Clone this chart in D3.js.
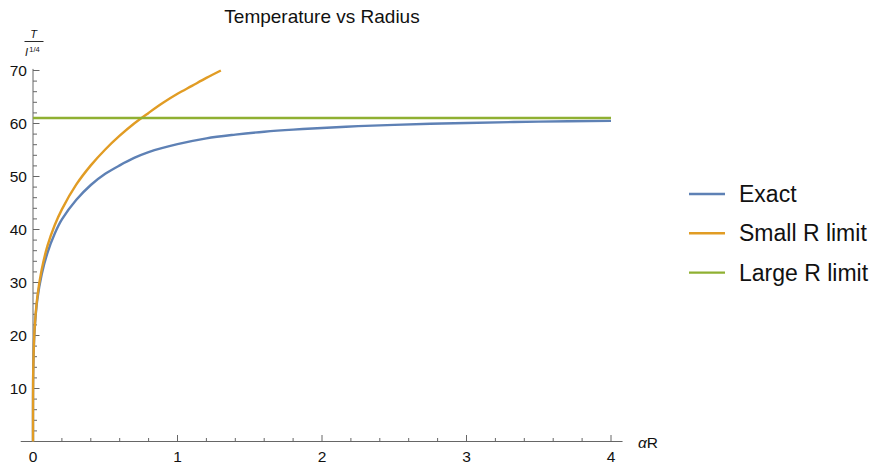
<!DOCTYPE html>
<html>
<head>
<meta charset="utf-8">
<script src="https://cdn.jsdelivr.net/npm/d3@7"></script>
<style>
  body { margin: 0; background: #fff; }
  svg { display: block; font-family: "Liberation Sans", Arial, sans-serif; }
</style>
</head>
<body>
<svg id="chart" width="876" height="466"></svg>
<script>
// ---- data ----
const seriesNames = ["Exact", "Small R limit", "Large R limit"];
const seriesColors = ["#5E81B5", "#E19C24", "#8FB032"];

const exactR = [0, 0.000005, 0.00005, 0.0005, 0.002, 0.01, 0.03, 0.06, 0.1, 0.15, 0.2, 0.3, 0.4, 0.5, 0.6, 0.7, 0.8, 1.0, 1.2, 1.4, 1.6, 1.8, 2.0, 2.25, 2.5, 2.75, 3.0, 3.5, 4.0];
const exactT = [0, 3.1, 5.5, 9.8, 13.8, 20.5, 26.8, 31.5, 35.6, 39.2, 41.9, 45.6, 48.4, 50.5, 52.1, 53.5, 54.6, 56.1, 57.2, 57.9, 58.45, 58.85, 59.15, 59.5, 59.75, 59.95, 60.1, 60.35, 60.5];

const smallR = [0, 0.000005, 0.00005, 0.0005, 0.002, 0.01, 0.03, 0.06, 0.1, 0.15, 0.2, 0.3, 0.4, 0.5, 0.6, 0.7, 0.8, 0.9, 1.0, 1.1, 1.2, 1.3];
const smallT = [0, 3.1, 5.5, 9.8, 13.9, 20.7, 27.3, 32.4, 36.9, 40.8, 43.8, 48.5, 52.1, 55.1, 57.7, 60.0, 62.0, 63.9, 65.6, 67.1, 68.6, 70.0];

const largeR = [0, 4];
const largeT = [61.05, 61.05];

const xMajorTicks = [0, 1, 2, 3, 4];
const yMajorTicks = [10, 20, 30, 40, 50, 60, 70];

// ---- layout ----
const svg = d3.select("#chart");
const x = d3.scaleLinear().domain([0, 4]).range([33, 611]);
const y = d3.scaleLinear().domain([0, 70]).range([441.5, 70.5]);
const axisColor = "#666";

const g = svg.append("g");

// x axis line (extends a little left of 0, right of 4)
g.append("line")
  .attr("x1", x(-0.085)).attr("x2", x(4.08))
  .attr("y1", y(0)).attr("y2", y(0))
  .attr("stroke", axisColor).attr("stroke-width", 1);
// y axis line
g.append("line")
  .attr("x1", x(0)).attr("x2", x(0))
  .attr("y1", y(0)).attr("y2", y(70.3))
  .attr("stroke", axisColor).attr("stroke-width", 1);

// x ticks
const xMinor = d3.range(0.2, 4.001, 0.2).filter(v => Math.abs(v - Math.round(v)) > 1e-6);
g.selectAll(".xminor").data(xMinor).enter().append("line")
  .attr("x1", d => x(d)).attr("x2", d => x(d))
  .attr("y1", y(0)).attr("y2", y(0) - 3.5)
  .attr("stroke", axisColor);
g.selectAll(".xmajor").data(xMajorTicks.filter(d => d > 0)).enter().append("line")
  .attr("x1", d => x(d)).attr("x2", d => x(d))
  .attr("y1", y(0)).attr("y2", y(0) - 6.5)
  .attr("stroke", axisColor);
g.selectAll(".xlab").data(xMajorTicks).enter().append("text")
  .attr("x", d => x(d)).attr("y", y(0) + 20.5)
  .attr("text-anchor", "middle").attr("font-size", 15.5).attr("fill", "#111")
  .text(d => d);

// y ticks
const yMinor = d3.range(2, 70.001, 2).filter(v => v % 10 !== 0);
g.selectAll(".yminor").data(yMinor).enter().append("line")
  .attr("x1", x(0)).attr("x2", x(0) + 4)
  .attr("y1", d => y(d)).attr("y2", d => y(d))
  .attr("stroke", axisColor);
g.selectAll(".ymajor").data(yMajorTicks).enter().append("line")
  .attr("x1", x(0)).attr("x2", x(0) + 6.5)
  .attr("y1", d => y(d)).attr("y2", d => y(d))
  .attr("stroke", axisColor);
g.selectAll(".ylab").data(yMajorTicks).enter().append("text")
  .attr("x", x(0) - 6).attr("y", d => y(d) + 5.5)
  .attr("text-anchor", "end").attr("font-size", 15.5).attr("fill", "#111")
  .text(d => d);

// axis labels
g.append("text").attr("x", 638).attr("y", 447.5)
  .attr("font-size", 15.5).attr("fill", "#111")
  .html('<tspan font-style="italic">α</tspan>R');

const yl = g.append("g");
yl.append("text").attr("x", 33.5).attr("y", 37.5).attr("text-anchor", "middle")
  .attr("font-size", 11).attr("font-style", "italic").attr("fill", "#111").text("T");
yl.append("line").attr("x1", 24.5).attr("x2", 43.5).attr("y1", 41.5).attr("y2", 41.5)
  .attr("stroke", "#111").attr("stroke-width", 0.9);
yl.append("text").attr("x", 25).attr("y", 55.5)
  .attr("font-size", 11).attr("font-style", "italic").attr("fill", "#111").text("I");
yl.append("text").attr("x", 29.3).attr("y", 51.5)
  .attr("font-size", 7.5).attr("fill", "#111").text("1/4");

// title
svg.append("text").attr("x", 322).attr("y", 22.5).attr("text-anchor", "middle")
  .attr("font-size", 19).attr("fill", "#111").text("Temperature vs Radius");

// ---- series ----
const line = d3.line().x(d => x(d[0])).y(d => y(d[1])).curve(d3.curveCatmullRom.alpha(0.5));
const series = [
  d3.zip(exactR, exactT),
  d3.zip(smallR, smallT),
  d3.zip(largeR, largeT)
];
svg.append("g").selectAll("path").data(series).enter().append("path")
  .attr("d", d => line(d))
  .attr("fill", "none")
  .attr("stroke", (d, i) => seriesColors[i])
  .attr("stroke-width", 2.4)
  .attr("stroke-linejoin", "round");

// ---- legend ----
const leg = svg.append("g");
seriesNames.forEach((name, i) => {
  const ly = 194 + i * 39.3;
  leg.append("line").attr("x1", 689).attr("x2", 725).attr("y1", ly).attr("y2", ly)
    .attr("stroke", seriesColors[i]).attr("stroke-width", 2.4);
  leg.append("text").attr("x", 739).attr("y", ly + 8)
    .attr("font-size", 23).attr("fill", "#111").text(name);
});
</script>
</body>
</html>
